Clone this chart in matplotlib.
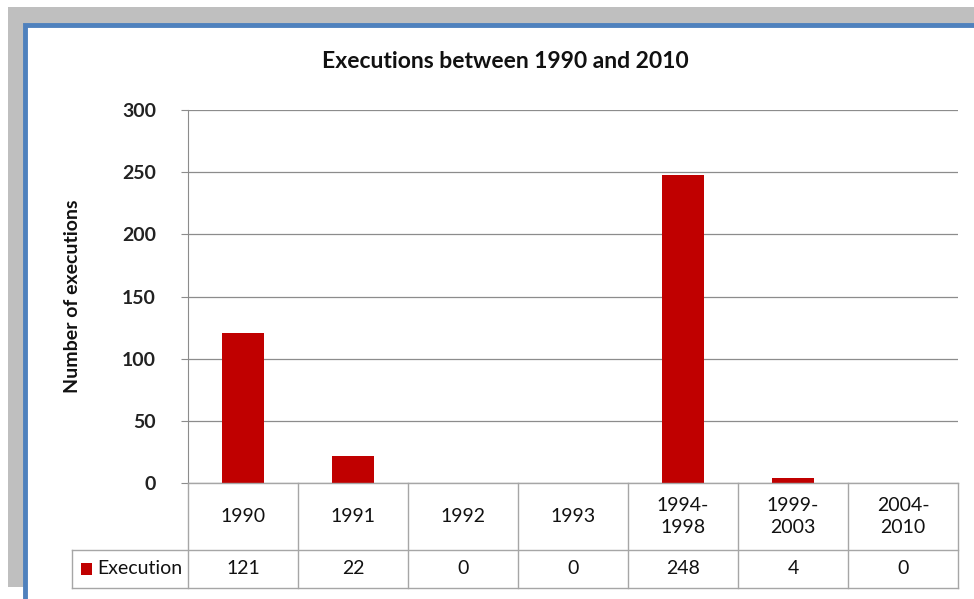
import matplotlib.pyplot as plt
from matplotlib.patches import Rectangle
from matplotlib.transforms import blended_transform_factory

categories = ["1990", "1991", "1992", "1993", "1994-\n1998", "1999-\n2003", "2004-\n2010"]
executions = [121, 22, 0, 0, 248, 4, 0]
yticks = [0, 50, 100, 150, 200, 250, 300]
series_name = "Execution"

W, H = 974, 599
bar_color = "#c00000"
grid_color = "#8c8c8c"
table_color = "#a6a6a6"

plt.rcParams['font.family'] = ['Lato', 'DejaVu Sans']

fig = plt.figure(figsize=(W / 100, H / 100), dpi=100)
fig.patch.set_facecolor("white")

# grey backdrop and blue frame of the chart object
fig.patches.append(Rectangle((8 / W, 12 / H), 1, 1 - 19 / H, transform=fig.transFigure,
                             facecolor="#bfbfbf", edgecolor="none", zorder=0))
fig.patches.append(Rectangle((25 / W, -0.1), 1, 1 + 0.1 - 25 / H, transform=fig.transFigure,
                             facecolor="white", edgecolor="#4f81bd", linewidth=3.5, zorder=1))

# plot area in pixels: x 188..958, y 110..483
left, right, top, bottom = 188, 958, 110, 483
ax = fig.add_axes([left / W, 1 - bottom / H, (right - left) / W, (bottom - top) / H])
ax.set_zorder(2)
ax.patch.set_alpha(0)

n = len(categories)
x = list(range(n))
ax.bar(x, executions, width=0.39, color=bar_color, zorder=3)
ax.set_xlim(-0.5, n - 0.5)
ax.set_ylim(0, 300)
ax.set_yticks(yticks)
ax.set_yticklabels([str(t) for t in yticks], fontsize=14, fontweight="bold", color="#222222")
ax.tick_params(axis="y", length=5, color=grid_color, pad=18)
ax.set_xticks([])
ax.grid(axis="y", color=grid_color, linewidth=0.9, zorder=0)
for side in ["top", "right", "bottom"]:
    ax.spines[side].set_visible(False)
ax.spines["left"].set_color(grid_color)

fig.text(505 / W, 1 - 62 / H, "Executions between 1990 and 2010", fontsize=16.5,
         fontweight="bold", ha="center", va="center", color="#111111")
fig.text(73 / W, 1 - 296 / H, "Number of executions", rotation=90, fontsize=14,
         fontweight="bold", ha="center", va="center", color="#111111")

# data table under the plot: columns in data units, rows in axes fraction
tr = blended_transform_factory(ax.transData, ax.transAxes)
plot_h = bottom - top
row1 = -67 / plot_h   # bottom of category row
row2 = -105 / plot_h  # bottom of value row
label_left = -0.5 - (left - 72) / ((right - left) / n)
lkw = dict(color=table_color, linewidth=1.0, transform=tr, clip_on=False, zorder=4)

ax.plot([-0.5, n - 0.5], [0, 0], **lkw)
ax.plot([label_left, n - 0.5], [row1, row1], **lkw)
ax.plot([label_left, n - 0.5], [row2, row2], **lkw)
ax.plot([label_left, label_left], [row1, row2], **lkw)
for i in range(n + 1):
    ax.plot([i - 0.5, i - 0.5], [0, row2], **lkw)

for i, (cat, val) in enumerate(zip(categories, executions)):
    ax.text(i, row1 / 2, cat, transform=tr, ha="center", va="center", fontsize=14,
            color="#111111", linespacing=1.35, clip_on=False)
    ax.text(i, (row1 + row2) / 2, str(val), transform=tr, ha="center", va="center",
            fontsize=14, color="#111111", clip_on=False)

ax.text(label_left + 0.23, (row1 + row2) / 2, series_name, transform=tr, ha="left",
        va="center", fontsize=14, color="#111111", clip_on=False)

# legend key in the row label cell
fig.patches.append(Rectangle((81 / W, 1 - 575 / H), 11 / W, 12 / H, transform=fig.transFigure,
                             facecolor=bar_color, edgecolor="none", zorder=5))

fig.savefig("out.png", dpi=100)
